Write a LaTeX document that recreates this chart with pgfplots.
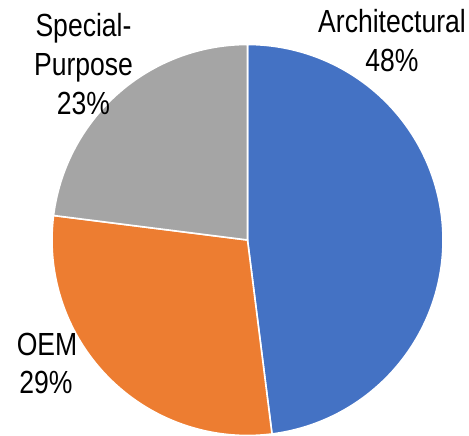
\documentclass[border=0pt]{standalone}
\usepackage{pgfplots}
\usepackage{pgfplotstable}
\usepackage{graphicx}
\usepackage{fontspec}
\setmainfont{Liberation Sans}
\pgfplotsset{compat=1.18}
\definecolor{cArch}{HTML}{4472C4}
\definecolor{cOEM}{HTML}{ED7D31}
\definecolor{cSpec}{HTML}{A5A5A5}
\pgfplotstableread{
label value
Architectural 48
OEM 29
Special-Purpose 23
}\piedata
\pgfplotstablegetelem{0}{value}\of\piedata \let\vA\pgfplotsretval
\pgfplotstablegetelem{1}{value}\of\piedata \let\vB\pgfplotsretval
\pgfplotstablegetelem{2}{value}\of\piedata \let\vC\pgfplotsretval
\pgfmathsetmacro{\aA}{\vA*3.6}
\pgfmathsetmacro{\aB}{\aA+\vB*3.6}
\pgfmathsetmacro{\aC}{\aB+\vC*3.6}
\newcommand{\lbl}[1]{\fontsize{32}{38}\selectfont\scalebox{0.83}[1]{#1}}
\begin{document}
\begin{tikzpicture}
\useasboundingbox (0,0) rectangle (469pt,436pt);
\begin{axis}[at={(0,0)}, anchor=south west, scale only axis,
  width=469pt, height=436pt, xmin=0, xmax=469, ymin=0, ymax=436,
  hide axis, clip=false]
\def\cx{247.5}\def\cy{196}\def\rr{195.5}
\addplot[fill=cArch, draw=white, line width=1.6pt, domain=0:\aA, samples=120]
  ({\cx+\rr*sin(x)},{\cy+\rr*cos(x)}) -- (axis cs:\cx,\cy) -- cycle;
\addplot[fill=cOEM, draw=white, line width=1.6pt, domain=\aA:\aB, samples=80]
  ({\cx+\rr*sin(x)},{\cy+\rr*cos(x)}) -- (axis cs:\cx,\cy) -- cycle;
\addplot[fill=cSpec, draw=white, line width=1.6pt, domain=\aB:\aC, samples=60]
  ({\cx+\rr*sin(x)},{\cy+\rr*cos(x)}) -- (axis cs:\cx,\cy) -- cycle;
\node[anchor=base, inner sep=0pt] at (axis cs:392,403) {\lbl{Architectural}};
\node[anchor=base, inner sep=0pt] at (axis cs:392,364) {\lbl{\vA\%}};
\node[anchor=base, inner sep=0pt] at (axis cs:83.5,399) {\lbl{Special-}};
\node[anchor=base, inner sep=0pt] at (axis cs:83.5,360) {\lbl{Purpose}};
\node[anchor=base, inner sep=0pt] at (axis cs:83.5,321) {\lbl{\vC\%}};
\node[anchor=base, inner sep=0pt] at (axis cs:47,80) {\lbl{OEM}};
\node[anchor=base, inner sep=0pt] at (axis cs:46,42) {\lbl{\vB\%}};
\end{axis}
\end{tikzpicture}
\end{document}
